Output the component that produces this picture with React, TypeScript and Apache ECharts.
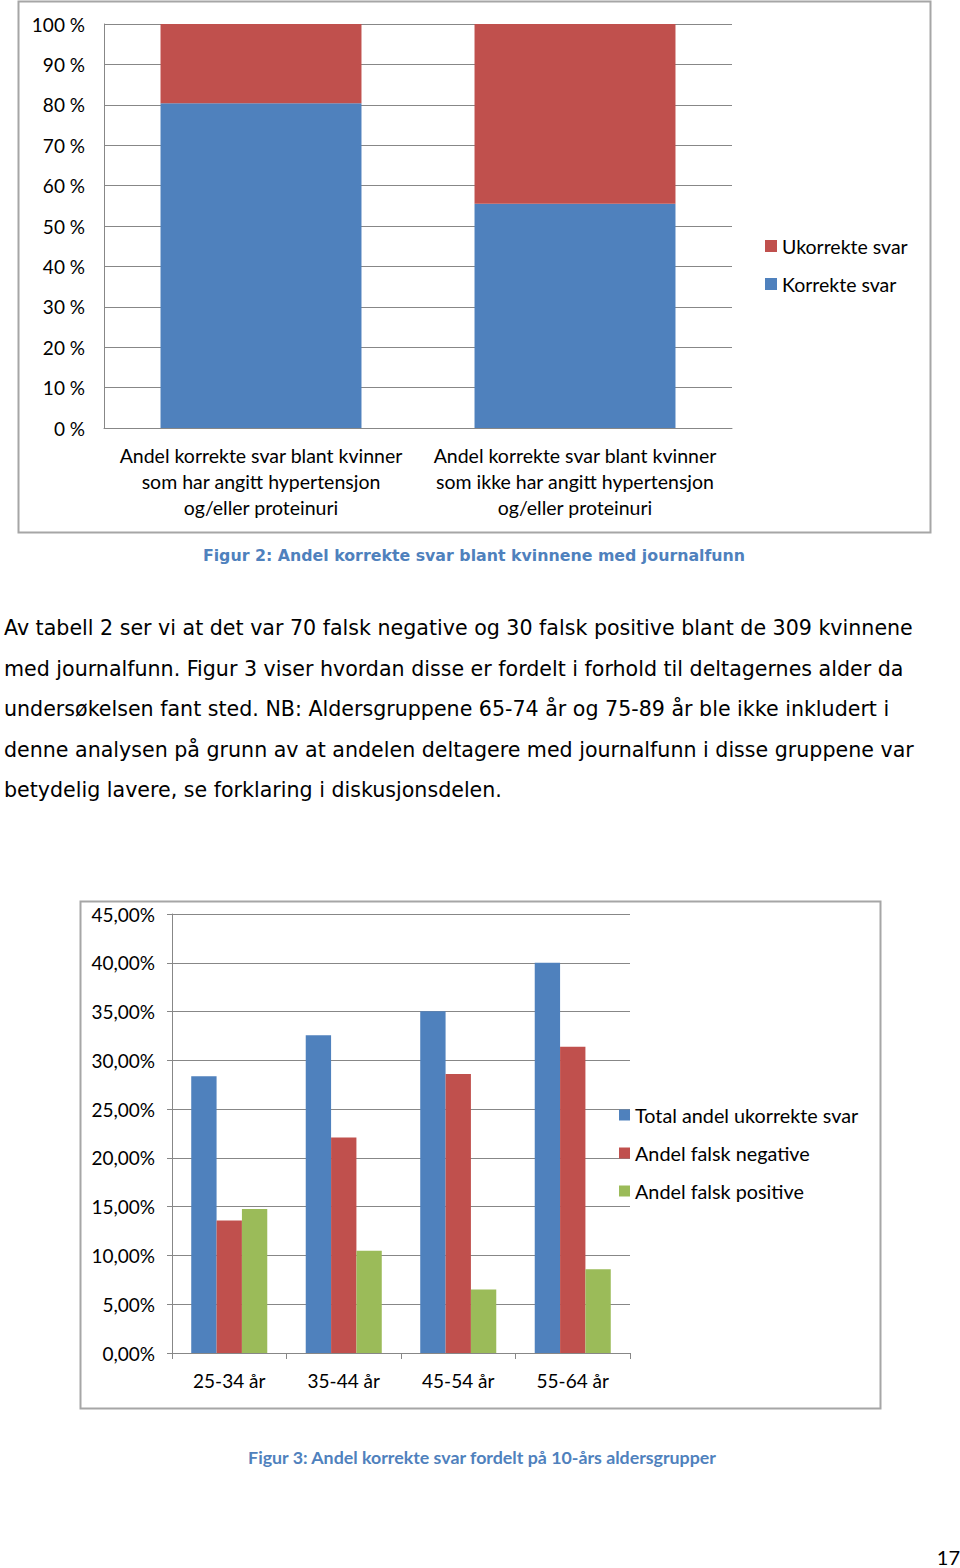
import React, { useEffect, useRef } from "react";
import * as echarts from "echarts";

const fig2Categories = [
  "Andel korrekte svar blant kvinner\nsom har angitt hypertensjon\nog/eller proteinuri",
  "Andel korrekte svar blant kvinner\nsom ikke har angitt hypertensjon\nog/eller proteinuri",
];
const fig2Korrekte = [80.4, 55.5];
const fig2Ukorrekte = [19.6, 44.5];

const fig3Categories = ["25-34 år", "35-44 år", "45-54 år", "55-64 år"];
const fig3Total = [28.38, 32.56, 35.02, 40.01];
const fig3FalskNeg = [13.58, 22.09, 28.59, 31.39];
const fig3FalskPos = [14.77, 10.47, 6.5, 8.58];

const paragraphLines = [
  "Av tabell 2 ser vi at det var 70 falsk negative og 30 falsk positive blant de 309 kvinnene",
  "med journalfunn. Figur 3 viser hvordan disse er fordelt i forhold til deltagernes alder da",
  "undersøkelsen fant sted. NB: Aldersgruppene 65-74 år og 75-89 år ble ikke inkludert i",
  "denne analysen på grunn av at andelen deltagere med journalfunn i disse gruppene var",
  "betydelig lavere, se forklaring i diskusjonsdelen.",
];

const BLUE = "#4F81BD";
const RED = "#C0504D";
const GREEN = "#9BBB59";
const GRID = "#878787";
const FONT = "Lato, 'Open Sans', sans-serif";

export default function App() {
  const ref = useRef<HTMLDivElement>(null);
  useEffect(() => {
    if (!ref.current) return;
    const chart = echarts.init(ref.current, null, { renderer: "svg" });
    const lineYs = [628, 669, 709, 750, 790];
    const option: any = {
      animation: false,
      backgroundColor: "#ffffff",
      textStyle: { fontFamily: FONT },
      grid: [
        { left: 104, top: 24, width: 628, height: 404, containLabel: false },
        { left: 172, top: 914, width: 458, height: 439, containLabel: false },
      ],
      xAxis: [
        {
          type: "category",
          gridIndex: 0,
          data: fig2Categories,
          axisLine: { lineStyle: { color: GRID, width: 1 } },
          axisTick: { show: false },
          axisLabel: {
            color: "#000",
            fontSize: 19.5,
            lineHeight: 26,
            margin: 14,
            fontFamily: FONT,
            interval: 0,
          },
        },
        {
          type: "category",
          gridIndex: 1,
          data: fig3Categories,
          axisLine: { lineStyle: { color: GRID, width: 1 } },
          axisTick: { show: true, length: 6, lineStyle: { color: GRID } },
          axisLabel: {
            color: "#000",
            fontSize: 19,
            lineHeight: 20,
            margin: 17,
            fontFamily: FONT,
            interval: 0,
          },
        },
      ],
      yAxis: [
        {
          type: "value",
          gridIndex: 0,
          min: 0,
          max: 100,
          interval: 10,
          axisLine: { show: true, lineStyle: { color: GRID } },
          axisTick: { show: false },
          splitLine: { lineStyle: { color: GRID } },
          axisLabel: {
            color: "#000",
            fontSize: 19,
            margin: 19,
            fontFamily: FONT,
            formatter: (v: number) => v + " %",
          },
        },
        {
          type: "value",
          gridIndex: 1,
          min: 0,
          max: 45,
          interval: 5,
          axisLine: { show: true, lineStyle: { color: GRID } },
          axisTick: { show: true, length: 5, lineStyle: { color: GRID } },
          splitLine: { lineStyle: { color: GRID } },
          axisLabel: {
            color: "#000",
            fontSize: 19,
            margin: 17,
            fontFamily: FONT,
            formatter: (v: number) => v.toFixed(2).replace(".", ",") + "%",
          },
        },
      ],
      legend: [
        {
          orient: "vertical",
          left: 765,
          top: 236,
          padding: 0,
          itemWidth: 12,
          itemHeight: 12,
          itemGap: 18,
          icon: "rect",
          data: ["Ukorrekte svar", "Korrekte svar"],
          textStyle: { fontSize: 19.5, lineHeight: 18, color: "#000", fontFamily: FONT },
        },
        {
          orient: "vertical",
          left: 619,
          top: 1105,
          padding: 0,
          itemWidth: 11,
          itemHeight: 11,
          itemGap: 18,
          icon: "rect",
          data: ["Total andel ukorrekte svar", "Andel falsk negative", "Andel falsk positive"],
          textStyle: { fontSize: 19.8, lineHeight: 18, color: "#000", fontFamily: FONT },
        },
      ],
      series: [
        {
          name: "Korrekte svar",
          type: "bar",
          stack: "a",
          xAxisIndex: 0,
          yAxisIndex: 0,
          barCategoryGap: "36%",
          itemStyle: { color: BLUE },
          data: fig2Korrekte,
        },
        {
          name: "Ukorrekte svar",
          type: "bar",
          stack: "a",
          xAxisIndex: 0,
          yAxisIndex: 0,
          barCategoryGap: "36%",
          itemStyle: { color: RED },
          data: fig2Ukorrekte,
        },
        {
          name: "Total andel ukorrekte svar",
          type: "bar",
          xAxisIndex: 1,
          yAxisIndex: 1,
          barGap: "0%",
          barCategoryGap: "33.6%",
          itemStyle: { color: BLUE },
          data: fig3Total,
        },
        {
          name: "Andel falsk negative",
          type: "bar",
          xAxisIndex: 1,
          yAxisIndex: 1,
          barGap: "0%",
          barCategoryGap: "33.6%",
          itemStyle: { color: RED },
          data: fig3FalskNeg,
        },
        {
          name: "Andel falsk positive",
          type: "bar",
          xAxisIndex: 1,
          yAxisIndex: 1,
          barGap: "0%",
          barCategoryGap: "33.6%",
          itemStyle: { color: GREEN },
          data: fig3FalskPos,
        },
      ],
      graphic: [
        {
          type: "rect",
          silent: true,
          z: -1,
          shape: { x: 18.5, y: 1.5, width: 912, height: 531 },
          style: { fill: "none", stroke: "#a6a6a6", lineWidth: 2 },
        },
        {
          type: "rect",
          silent: true,
          z: -1,
          shape: { x: 80.5, y: 901.5, width: 800, height: 507 },
          style: { fill: "none", stroke: "#a6a6a6", lineWidth: 2 },
        },
        {
          type: "text",
          x: 474,
          y: 555,
          style: {
            text: "Figur 2: Andel korrekte svar blant kvinnene med journalfunn",
            fill: BLUE,
            font: "bold 15.8px 'DejaVu Sans', sans-serif",
            textAlign: "center",
            textVerticalAlign: "middle",
          },
        },
        ...paragraphLines.map((t, i) => ({
          type: "text",
          x: 4,
          y: lineYs[i],
          style: {
            text: t,
            fill: "#000",
            font: "20.6px 'DejaVu Sans', sans-serif",
            textAlign: "left",
            textVerticalAlign: "middle",
          },
        })),
        {
          type: "text",
          x: 482,
          y: 1457,
          style: {
            text: "Figur 3: Andel korrekte svar fordelt på 10-års aldersgrupper",
            fill: BLUE,
            font: "bold 17.8px Lato, sans-serif",
            textAlign: "center",
            textVerticalAlign: "middle",
          },
        },
        {
          type: "text",
          x: 960,
          y: 1557,
          style: {
            text: "17",
            fill: "#000",
            font: "20px Lato, sans-serif",
            textAlign: "right",
            textVerticalAlign: "middle",
          },
        },
      ],
    };
    chart.setOption(option);
    return () => chart.dispose();
  }, []);
  return (
    <div
      ref={ref}
      style={{ position: "absolute", left: 0, top: 0, width: 960, height: 1568 }}
    />
  );
}
